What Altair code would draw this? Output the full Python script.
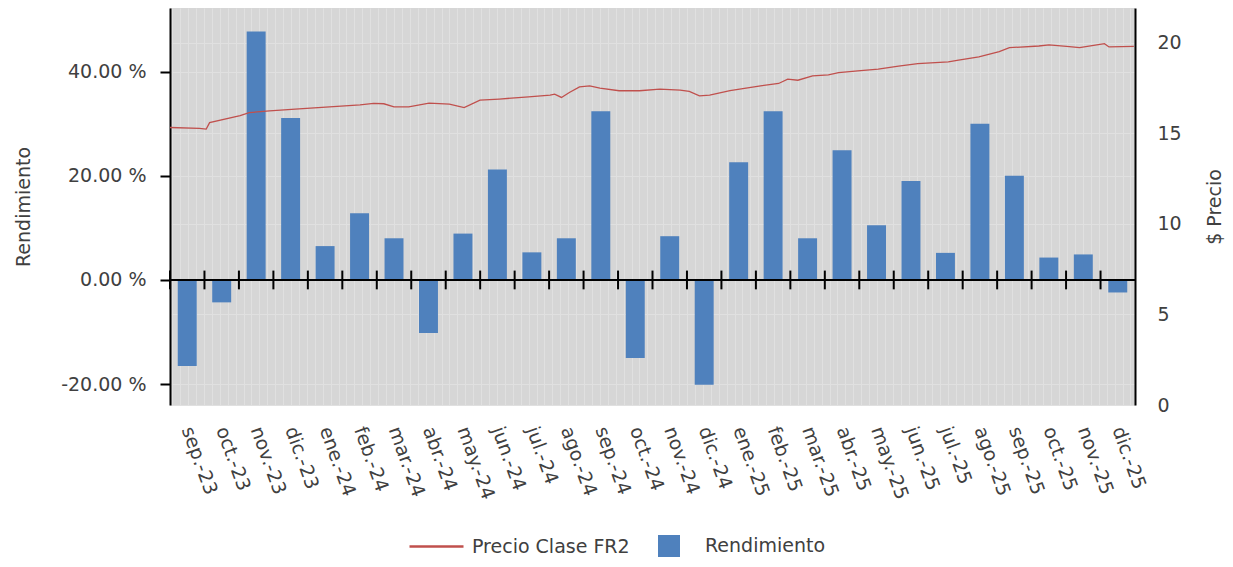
import altair as alt
import pandas as pd

months = ["sep.-23", "oct.-23", "nov.-23", "dic.-23", "ene.-24", "feb.-24", "mar.-24",
          "abr.-24", "may.-24", "jun.-24", "jul.-24", "ago.-24", "sep.-24", "oct.-24",
          "nov.-24", "dic.-24", "ene.-25", "feb.-25", "mar.-25", "abr.-25", "may.-25",
          "jun.-25", "jul.-25", "ago.-25", "sep.-25", "oct.-25", "nov.-25", "dic.-25"]
rendimiento = [-16.5, -4.3, 47.7, 31.1, 6.5, 12.8, 8.0, -10.2, 8.9, 21.2, 5.3, 8.0, 32.4, -15.0,
               8.4, -20.1, 22.6, 32.4, 8.0, 24.9, 10.5, 19.0, 5.2, 30.0, 20.0, 4.3, 4.9, -2.4]

price_dates = ["2023-09-01", "2023-09-27", "2023-10-03", "2023-10-06", "2023-11-02", "2023-11-10",
               "2023-11-28", "2023-12-24", "2024-01-20", "2024-02-16", "2024-02-28", "2024-03-08",
               "2024-03-17", "2024-03-30", "2024-04-17", "2024-05-05", "2024-05-18", "2024-06-01",
               "2024-06-18", "2024-07-14", "2024-08-02", "2024-08-06", "2024-08-12", "2024-08-19",
               "2024-08-28", "2024-09-06", "2024-09-15", "2024-10-02", "2024-10-20", "2024-11-07",
               "2024-11-25", "2024-12-03", "2024-12-12", "2024-12-21", "2025-01-08", "2025-02-04",
               "2025-02-20", "2025-02-28", "2025-03-09", "2025-03-22", "2025-04-05", "2025-04-14",
               "2025-05-01", "2025-05-19", "2025-06-06", "2025-06-23", "2025-07-20", "2025-07-29",
               "2025-08-16", "2025-09-03", "2025-09-12", "2025-10-08", "2025-10-17", "2025-11-04",
               "2025-11-13", "2025-12-01", "2025-12-05", "2025-12-09", "2025-12-31"]
price_values = [15.33, 15.28, 15.24, 15.60, 15.98, 16.15, 16.25, 16.36, 16.47, 16.58, 16.66, 16.64,
                16.47, 16.47, 16.68, 16.62, 16.43, 16.84, 16.90, 17.02, 17.12, 17.17, 16.99, 17.26,
                17.57, 17.63, 17.50, 17.36, 17.36, 17.45, 17.39, 17.32, 17.08, 17.12, 17.36, 17.63,
                17.76, 18.00, 17.94, 18.18, 18.24, 18.36, 18.46, 18.55, 18.72, 18.86, 18.95, 19.05,
                19.23, 19.52, 19.74, 19.83, 19.89, 19.80, 19.74, 19.92, 19.96, 19.78, 19.81]

left_ticks = [-20, 0, 20, 40]
right_ticks = [0, 5, 10, 15, 20]

bars_df = pd.DataFrame({"mes": months, "rend": rendimiento, "serie_b": "Rendimiento"})
price_df = pd.DataFrame({"fecha": price_dates, "precio": price_values, "serie_l": "Precio Clase FR2"})
zero_df = pd.DataFrame({"cero": [0]})

FONT = "DejaVu Sans"
TXT = "#404040"
GRID = "#e0e0e0"

x_scale = alt.Scale(paddingInner=0, paddingOuter=0)
x_axis = alt.Axis(title=None, labelAngle=70, labelAlign="left", labelBaseline="middle",
                  labelPadding=22, domain=False, ticks=False, grid=False)
y_left_scale = alt.Scale(domain=[-24.0, 52.2], nice=False, zero=False)
y_left_axis = alt.Axis(title="Rendimiento", values=left_ticks,
                       labelExpr="(datum.value < 0 ? '-' : '') + format(abs(datum.value), '.2f') + ' %'",
                       domain=True, domainColor="black", domainWidth=2,
                       ticks=True, tickColor="black", tickWidth=2, tickSize=10,
                       labelPadding=14, titlePadding=27,
                       grid=True, gridColor=GRID)

bars = alt.Chart(bars_df).mark_bar(width=alt.RelativeBandSize(0.55)).encode(
    x=alt.X("mes:N", sort=months, scale=x_scale, axis=x_axis),
    y=alt.Y("rend:Q", scale=y_left_scale, axis=y_left_axis),
    fill=alt.Fill("serie_b:N", scale=alt.Scale(domain=["Rendimiento"], range=["#4f81bd"]),
                  legend=alt.Legend(title=None, orient="none", legendX=488, legendY=527,
                                    symbolType="square", symbolSize=484, labelOffset=25,
                                    padding=0, symbolStrokeWidth=0)),
)

zero_rule = alt.Chart(zero_df).mark_rule(color="black", strokeWidth=2).encode(
    y=alt.datum(0)
)

x_ticks = alt.Chart(bars_df).mark_rule(color="black", strokeWidth=2).encode(
    x=alt.X("mes:N", sort=months, bandPosition=0, scale=x_scale, axis=x_axis),
    y=alt.datum(-1.8),
    y2=alt.datum(1.8),
)

left_layer = alt.layer(bars, zero_rule, x_ticks)

line = alt.Chart(price_df).mark_line(strokeWidth=1.3).encode(
    x=alt.X("fecha:T",
            scale=alt.Scale(type="utc",
                            domain=[alt.DateTime(year=2023, month=9, date=1, utc=True),
                                    alt.DateTime(year=2026, month=1, date=1, utc=True)]),
            axis=alt.Axis(title=None, orient="top", labels=False, ticks=False, domain=False,
                          grid=True, gridColor=GRID, gridWidth=1,
                          tickCount=alt.TimeIntervalStep(interval="week", step=1))),
    y=alt.Y("precio:Q", scale=alt.Scale(domain=[0, 21.93], nice=False, zero=False),
            axis=alt.Axis(title="$ Precio", orient="right", values=right_ticks,
                          domain=True, domainColor="black", domainWidth=2,
                          ticks=False, tickSize=0, labelPadding=22,
                          titleAngle=270, titleBaseline="top", titlePadding=24,
                          grid=True, gridColor=GRID)),
    stroke=alt.Stroke("serie_l:N", scale=alt.Scale(domain=["Precio Clase FR2"], range=["#c0504d"]),
                      legend=alt.Legend(title=None, orient="none", legendX=238, legendY=510,
                                        symbolType="stroke", symbolSize=2916, symbolStrokeWidth=2.5,
                                        symbolStrokeColor="#e4a3a6", labelOffset=7, padding=0)),
)

chart = alt.layer(left_layer, line).resolve_scale(
    x="independent", y="independent"
).properties(
    width=965, height=397,
    autosize=alt.AutoSizeParams(type="none"),
    padding={"left": 162, "top": 0, "right": 90, "bottom": 154},
).configure_view(
    fill="#d6d6d6", strokeWidth=0
).configure_axis(
    labelFont=FONT, titleFont=FONT, labelFontSize=19, titleFontSize=19,
    titleFontWeight="normal", labelColor=TXT, titleColor=TXT
).configure_legend(
    labelFont=FONT, labelFontSize=19, labelColor=TXT
)

chart.save("out.html", embed_options={"renderer": "svg", "actions": False})
